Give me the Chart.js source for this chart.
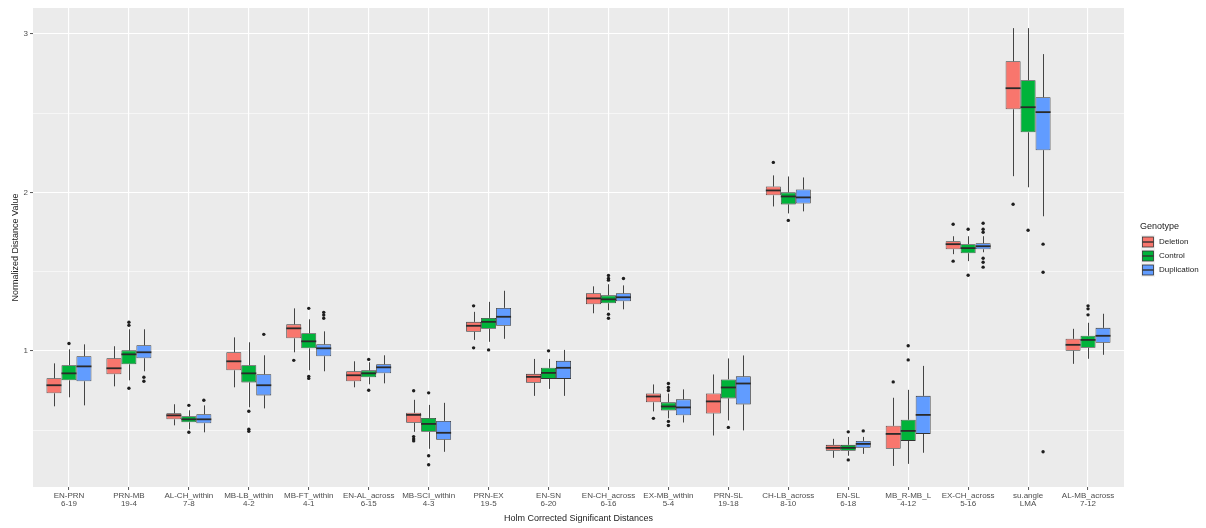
<!DOCTYPE html>
<html>
<head>
<meta charset="utf-8">
<script src="https://cdn.jsdelivr.net/npm/chart.js@4.4.1/dist/chart.umd.min.js"></script>
<style>
html,body{margin:0;padding:0;background:#ffffff;}
canvas{display:block;}
</style>
</head>
<body>
<canvas id="c" width="1206" height="528"></canvas>
<script>
// ---------- data ----------
const categories = [
  ["EN-PRN","6-19"],["PRN-MB","19-4"],["AL-CH_within","7-8"],["MB-LB_within","4-2"],
  ["MB-FT_within","4-1"],["EN-AL_across","6-15"],["MB-SCI_within","4-3"],["PRN-EX","19-5"],
  ["EN-SN","6-20"],["EN-CH_across","6-16"],["EX-MB_within","5-4"],["PRN-SL","19-18"],
  ["CH-LB_across","8-10"],["EN-SL","6-18"],["MB_R-MB_L","4-12"],["EX-CH_across","5-16"],
  ["su.angle","LMA"],["AL-MB_across","7-12"]
];
const genotypes = ["Deletion","Control","Duplication"];
const yGridValues = [0.5, 1, 1.5, 2, 2.5, 3];

// [lower whisker, Q1, median, Q3, upper whisker]
const deletionStats = [
  [0.651,0.733,0.784,0.828,0.922],
  [0.777,0.853,0.891,0.954,1.030],
  [0.531,0.569,0.594,0.607,0.664],
  [0.771,0.878,0.935,0.992,1.086],
  [0.992,1.080,1.143,1.168,1.269],
  [0.771,0.809,0.847,0.872,0.935],
  [0.490,0.547,0.597,0.610,0.692],
  [1.070,1.121,1.159,1.184,1.247],
  [0.717,0.799,0.837,0.856,0.950],
  [1.238,1.295,1.332,1.364,1.408],
  [0.619,0.676,0.713,0.732,0.789],
  [0.467,0.606,0.682,0.732,0.852],
  [1.912,1.982,2.013,2.038,2.108],
  [0.326,0.370,0.389,0.408,0.446],
  [0.275,0.383,0.477,0.528,0.705],
  [1.611,1.642,1.674,1.693,1.724],
  [2.103,2.525,2.658,2.828,3.037],
  [0.919,1.001,1.039,1.077,1.140]
];
const controlStats = [
  [0.708,0.815,0.859,0.910,1.011],
  [0.815,0.916,0.979,1.004,1.137],
  [0.506,0.550,0.569,0.588,0.626],
  [0.645,0.802,0.859,0.910,1.055],
  [0.878,1.017,1.061,1.112,1.200],
  [0.790,0.834,0.859,0.878,0.929],
  [0.383,0.490,0.540,0.578,0.660],
  [1.058,1.140,1.184,1.209,1.310],
  [0.761,0.824,0.862,0.894,0.950],
  [1.257,1.301,1.326,1.351,1.421],
  [0.575,0.625,0.650,0.676,0.732],
  [0.562,0.701,0.770,0.821,0.953],
  [1.868,1.925,1.975,2.001,2.101],
  [0.339,0.370,0.389,0.408,0.458],
  [0.288,0.433,0.496,0.566,0.755],
  [1.567,1.617,1.649,1.674,1.724],
  [2.033,2.380,2.538,2.708,3.037],
  [0.951,1.020,1.070,1.096,1.178]
];
const duplicationStats = [
  [0.657,0.809,0.903,0.967,1.042],
  [0.872,0.954,0.992,1.036,1.137],
  [0.487,0.544,0.569,0.601,0.657],
  [0.638,0.720,0.784,0.853,0.973],
  [0.872,0.967,1.017,1.042,1.124],
  [0.796,0.859,0.897,0.916,0.973],
  [0.364,0.440,0.484,0.559,0.673],
  [1.077,1.159,1.216,1.272,1.380],
  [0.717,0.824,0.894,0.938,1.007],
  [1.263,1.314,1.339,1.364,1.414],
  [0.549,0.594,0.644,0.695,0.758],
  [0.499,0.663,0.795,0.840,0.972],
  [1.881,1.931,1.969,2.019,2.095],
  [0.351,0.389,0.414,0.433,0.458],
  [0.358,0.477,0.597,0.717,0.906],
  [1.623,1.642,1.661,1.680,1.724],
  [1.850,2.267,2.507,2.601,2.873],
  [0.976,1.052,1.096,1.146,1.235]
];
const deletionOutliers = [
  [],[],[],[],[0.941],[],[0.749,0.460,0.445,0.433],[1.285,1.020],[],[],
  [0.575],[],[2.190],[],[0.805],[1.800,1.567],[1.926],[]
];
const controlOutliers = [
  [1.047],[1.181,1.162,0.765],[0.657,0.487],[0.620,0.506,0.493],[1.269,0.840,0.827],
  [0.947,0.752],[0.736,0.339,0.282],[1.007],[1.001],[1.477,1.457,1.447,1.232,1.207],
  [0.795,0.770,0.751,0.556,0.530],[0.518],[1.824],[0.490,0.313],[0.944,1.033],
  [1.768,1.478],[1.762],[1.285,1.266,1.228]
];
const duplicationOutliers = [
  [],[0.834,0.809],[0.689],[1.105],[1.244,1.227,1.207],[],[],[],[],[1.457],
  [],[],[],[0.496],[],[1.806,1.768,1.749,1.585,1.560,1.529],[1.674,1.497,0.364],[]
];

// ---------- styling ----------
const fillColors = ["#F8766D", "#00B33A", "#619CFF"];
const allStats = [deletionStats, controlStats, duplicationStats];
const allOutliers = [deletionOutliers, controlOutliers, duplicationOutliers];
const FONT = '"Liberation Sans", Arial, sans-serif';
const lineCol = '#333333';

const datasets = genotypes.map((g, gi) => ({
  label: g,
  data: allStats[gi].map((s, i) => ({ x: i, y: [s[1], s[3]] })),
  backgroundColor: fillColors[gi],
  borderColor: lineCol,
  borderWidth: 0.8,
  borderSkipped: false,
  categoryPercentage: 0.75,
  barPercentage: 1.0
}));

const boxPlugin = {
  id: 'boxExtras',
  beforeDraw(chart) {
    const { ctx, chartArea: a } = chart;
    ctx.save();
    ctx.fillStyle = '#EBEBEB';
    ctx.fillRect(a.left, a.top, a.right - a.left, a.bottom - a.top);
    ctx.restore();
  },
  beforeDatasetsDraw(chart) {
    const { ctx } = chart;
    const ys = chart.scales.y;
    ctx.save();
    ctx.strokeStyle = '#444444';
    ctx.lineWidth = 1;
    allStats.forEach((stats, gi) => {
      const meta = chart.getDatasetMeta(gi);
      stats.forEach((s, i) => {
        const el = meta.data[i];
        const x = Math.round(el.x) + 0.5;
        ctx.beginPath();
        ctx.moveTo(x, ys.getPixelForValue(s[0]));
        ctx.lineTo(x, ys.getPixelForValue(s[1]));
        ctx.moveTo(x, ys.getPixelForValue(s[3]));
        ctx.lineTo(x, ys.getPixelForValue(s[4]));
        ctx.stroke();
      });
    });
    ctx.restore();
  },
  afterDatasetsDraw(chart) {
    const { ctx } = chart;
    const ys = chart.scales.y;
    ctx.save();
    allStats.forEach((stats, gi) => {
      const meta = chart.getDatasetMeta(gi);
      stats.forEach((s, i) => {
        const el = meta.data[i];
        const y = ys.getPixelForValue(s[2]);
        ctx.strokeStyle = '#2a2a2a';
        ctx.lineWidth = 1.8;
        ctx.beginPath();
        ctx.moveTo(el.x - el.width / 2, y);
        ctx.lineTo(el.x + el.width / 2, y);
        ctx.stroke();
        ctx.fillStyle = '#1e1e1e';
        allOutliers[gi][i].forEach(v => {
          ctx.beginPath();
          ctx.arc(el.x, ys.getPixelForValue(v), 1.7, 0, Math.PI * 2);
          ctx.fill();
        });
      });
    });
    ctx.restore();
  },
  afterDraw(chart) {
    const { ctx, chartArea: a } = chart;
    const lx = a.right + 17;
    ctx.save();
    ctx.textBaseline = 'middle';
    ctx.textAlign = 'left';
    ctx.fillStyle = '#222222';
    ctx.font = '9px ' + FONT;
    ctx.fillText('Genotype', lx - 1, 227);
    genotypes.forEach((g, gi) => {
      const cy = 242 + gi * 14;
      ctx.fillStyle = '#F2F2F2';
      ctx.fillRect(lx, cy - 7, 14, 14);
      ctx.fillStyle = fillColors[gi];
      ctx.fillRect(lx + 1.5, cy - 5, 11, 10);
      ctx.strokeStyle = lineCol;
      ctx.lineWidth = 0.8;
      ctx.strokeRect(lx + 1.5, cy - 5, 11, 10);
      ctx.lineWidth = 1.4;
      ctx.beginPath();
      ctx.moveTo(lx + 1.5, cy); ctx.lineTo(lx + 12.5, cy);
      ctx.stroke();
      ctx.fillStyle = '#222222';
      ctx.font = '8px ' + FONT;
      ctx.fillText(g, lx + 18, cy);
    });
    ctx.restore();
  }
};

new Chart(document.getElementById('c'), {
  type: 'bar',
  data: { datasets },
  plugins: [boxPlugin],
  options: {
    responsive: false,
    animation: false,
    devicePixelRatio: 1,
    layout: { padding: { top: 8, right: 82, bottom: 0, left: 0 } },
    plugins: { legend: { display: false }, tooltip: { enabled: false } },
    scales: {
      x: {
        type: 'linear',
        min: -0.6,
        max: 17.6,
        offset: false,
        afterFit: s => { s.height = 41; },
        afterBuildTicks: s => { s.ticks = categories.map((c, i) => ({ value: i })); },
        grid: { color: '#FFFFFF', lineWidth: 1.1, offset: false, drawTicks: true, tickLength: 3, tickColor: '#555555', tickWidth: 1 },
        border: { display: false },
        ticks: {
          autoSkip: false, maxRotation: 0, minRotation: 0, padding: 1,
          color: '#4D4D4D', font: { family: FONT, size: 8, lineHeight: 1.1 },
          callback: v => categories[Math.round(v)] || ''
        },
        title: { display: true, text: 'Holm Corrected Significant Distances', color: '#222222',
                 font: { family: FONT, size: 9 }, padding: { top: 0, bottom: 4 } }
      },
      y: {
        type: 'linear',
        min: 0.142,
        max: 3.164,
        afterFit: s => { s.width = 33; },
        afterBuildTicks: s => { s.ticks = yGridValues.map(v => ({ value: v })); },
        grid: {
          color: '#FFFFFF',
          lineWidth: c => (c.tick && Number.isInteger(c.tick.value)) ? 1.1 : 0.55,
          drawTicks: true, tickLength: 3, tickWidth: 1,
          tickColor: c => (c.tick && Number.isInteger(c.tick.value)) ? '#555555' : 'rgba(0,0,0,0)'
        },
        border: { display: false },
        ticks: {
          padding: 2, color: '#4D4D4D', font: { family: FONT, size: 8 },
          callback: v => Number.isInteger(v) ? String(v) : ''
        },
        title: { display: true, text: 'Normalized Distance Value', color: '#222222',
                 font: { family: FONT, size: 9 }, padding: { top: 10, bottom: 0 } }
      }
    }
  }
});
</script>
</body>
</html>
